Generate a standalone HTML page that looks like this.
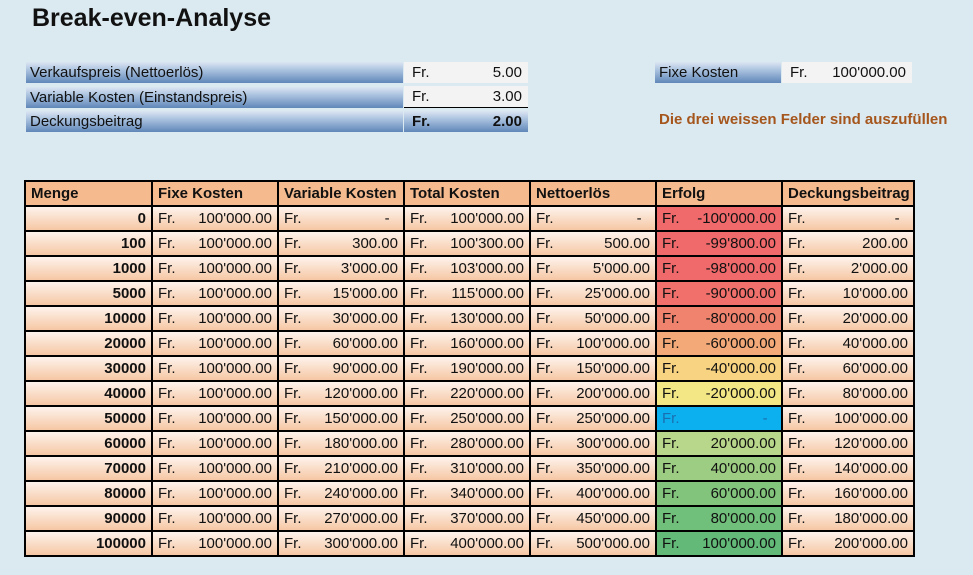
<!DOCTYPE html><html><head><meta charset="utf-8"><style>
body{margin:0;width:973px;height:575px;background:#dbe9f1;font-family:"Liberation Sans",Arial,sans-serif;position:relative;overflow:hidden;color:#111}
.a{position:absolute}
.bar{position:absolute;left:26px;width:377px;height:21px;background:linear-gradient(#dce6f2,#a9c1de 40%,#5f87b8);font-size:15px;line-height:21px;padding-left:4px;box-sizing:border-box}
.val{position:absolute;left:404px;width:124px;height:21px;background:#f3f3f3;font-size:15px;line-height:21px}
.val span{position:absolute;left:8px}.val b,.val i{position:absolute;right:6px;font-style:normal}
table{position:absolute;left:24px;top:180px;width:889px;border-collapse:collapse;table-layout:fixed;font-size:15px}
td{border:2px solid #000;height:23px;padding:0 5px;line-height:21px;background:linear-gradient(#fdf3ec,#f6c7a4);white-space:nowrap;overflow:hidden}
tr.h td{background:#f5bb8f;font-weight:bold}
td.m{text-align:right;font-weight:bold}
td span{float:left}td i{float:right;font-style:normal}
</style></head><body>
<div class="a" style="left:32px;top:4px;font-size:25px;font-weight:bold">Break-even-Analyse</div>
<div class="bar" style="top:62px">Verkaufspreis (Nettoerlös)</div>
<div class="bar" style="top:87px">Variable Kosten (Einstandspreis)</div>
<div class="bar" style="top:111px">Deckungsbeitrag</div>
<div class="val" style="top:62px"><span>Fr.</span><i>5.00</i></div>
<div class="val" style="top:86px;border-bottom:1px solid #000"><span>Fr.</span><i>3.00</i></div>
<div class="val" style="top:111px;background:linear-gradient(#dce6f2,#a9c1de 40%,#5f87b8);font-weight:bold"><span>Fr.</span><b>2.00</b></div>
<div class="bar" style="top:62px;left:655px;width:126px">Fixe Kosten</div>
<div class="val" style="top:62px;left:782px;width:130px"><span>Fr.</span><i>100'000.00</i></div>
<div class="a" style="left:659px;top:111px;font-size:15px;font-weight:bold;color:#a5561c">Die drei weissen Felder sind auszufüllen</div>
<table>
<colgroup><col style="width:127px"><col style="width:126px"><col style="width:126px"><col style="width:126px"><col style="width:126px"><col style="width:126px"><col style="width:132px"></colgroup>
<tr class="h"><td>Menge</td><td>Fixe Kosten</td><td>Variable Kosten</td><td>Total Kosten</td><td>Nettoerlös</td><td>Erfolg</td><td>Deckungsbeitrag</td></tr>
<tr><td class="m">0</td><td><span>Fr.</span><i>100'000.00</i></td><td><span>Fr.</span><i>-&nbsp;&nbsp;</i></td><td><span>Fr.</span><i>100'000.00</i></td><td><span>Fr.</span><i>-&nbsp;&nbsp;</i></td><td style="background:#f0696b"><span>Fr.</span><i>-100'000.00</i></td><td><span>Fr.</span><i>-&nbsp;&nbsp;</i></td></tr>
<tr><td class="m">100</td><td><span>Fr.</span><i>100'000.00</i></td><td><span>Fr.</span><i>300.00</i></td><td><span>Fr.</span><i>100'300.00</i></td><td><span>Fr.</span><i>500.00</i></td><td style="background:#f0696b"><span>Fr.</span><i>-99'800.00</i></td><td><span>Fr.</span><i>200.00</i></td></tr>
<tr><td class="m">1000</td><td><span>Fr.</span><i>100'000.00</i></td><td><span>Fr.</span><i>3'000.00</i></td><td><span>Fr.</span><i>103'000.00</i></td><td><span>Fr.</span><i>5'000.00</i></td><td style="background:#f0696b"><span>Fr.</span><i>-98'000.00</i></td><td><span>Fr.</span><i>2'000.00</i></td></tr>
<tr><td class="m">5000</td><td><span>Fr.</span><i>100'000.00</i></td><td><span>Fr.</span><i>15'000.00</i></td><td><span>Fr.</span><i>115'000.00</i></td><td><span>Fr.</span><i>25'000.00</i></td><td style="background:#f1706c"><span>Fr.</span><i>-90'000.00</i></td><td><span>Fr.</span><i>10'000.00</i></td></tr>
<tr><td class="m">10000</td><td><span>Fr.</span><i>100'000.00</i></td><td><span>Fr.</span><i>30'000.00</i></td><td><span>Fr.</span><i>130'000.00</i></td><td><span>Fr.</span><i>50'000.00</i></td><td style="background:#f0836e"><span>Fr.</span><i>-80'000.00</i></td><td><span>Fr.</span><i>20'000.00</i></td></tr>
<tr><td class="m">20000</td><td><span>Fr.</span><i>100'000.00</i></td><td><span>Fr.</span><i>60'000.00</i></td><td><span>Fr.</span><i>160'000.00</i></td><td><span>Fr.</span><i>100'000.00</i></td><td style="background:#f4aa78"><span>Fr.</span><i>-60'000.00</i></td><td><span>Fr.</span><i>40'000.00</i></td></tr>
<tr><td class="m">30000</td><td><span>Fr.</span><i>100'000.00</i></td><td><span>Fr.</span><i>90'000.00</i></td><td><span>Fr.</span><i>190'000.00</i></td><td><span>Fr.</span><i>150'000.00</i></td><td style="background:#f8d381"><span>Fr.</span><i>-40'000.00</i></td><td><span>Fr.</span><i>60'000.00</i></td></tr>
<tr><td class="m">40000</td><td><span>Fr.</span><i>100'000.00</i></td><td><span>Fr.</span><i>120'000.00</i></td><td><span>Fr.</span><i>220'000.00</i></td><td><span>Fr.</span><i>200'000.00</i></td><td style="background:#f3e685"><span>Fr.</span><i>-20'000.00</i></td><td><span>Fr.</span><i>80'000.00</i></td></tr>
<tr><td class="m">50000</td><td><span>Fr.</span><i>100'000.00</i></td><td><span>Fr.</span><i>150'000.00</i></td><td><span>Fr.</span><i>250'000.00</i></td><td><span>Fr.</span><i>250'000.00</i></td><td style="background:#0db0ee;color:#1a6fb0"><span>Fr.</span><i>-&nbsp;&nbsp;</i></td><td><span>Fr.</span><i>100'000.00</i></td></tr>
<tr><td class="m">60000</td><td><span>Fr.</span><i>100'000.00</i></td><td><span>Fr.</span><i>180'000.00</i></td><td><span>Fr.</span><i>280'000.00</i></td><td><span>Fr.</span><i>300'000.00</i></td><td style="background:#b9d78a"><span>Fr.</span><i>20'000.00</i></td><td><span>Fr.</span><i>120'000.00</i></td></tr>
<tr><td class="m">70000</td><td><span>Fr.</span><i>100'000.00</i></td><td><span>Fr.</span><i>210'000.00</i></td><td><span>Fr.</span><i>310'000.00</i></td><td><span>Fr.</span><i>350'000.00</i></td><td style="background:#9ccd82"><span>Fr.</span><i>40'000.00</i></td><td><span>Fr.</span><i>140'000.00</i></td></tr>
<tr><td class="m">80000</td><td><span>Fr.</span><i>100'000.00</i></td><td><span>Fr.</span><i>240'000.00</i></td><td><span>Fr.</span><i>340'000.00</i></td><td><span>Fr.</span><i>400'000.00</i></td><td style="background:#83c47d"><span>Fr.</span><i>60'000.00</i></td><td><span>Fr.</span><i>160'000.00</i></td></tr>
<tr><td class="m">90000</td><td><span>Fr.</span><i>100'000.00</i></td><td><span>Fr.</span><i>270'000.00</i></td><td><span>Fr.</span><i>370'000.00</i></td><td><span>Fr.</span><i>450'000.00</i></td><td style="background:#70bf7a"><span>Fr.</span><i>80'000.00</i></td><td><span>Fr.</span><i>180'000.00</i></td></tr>
<tr><td class="m">100000</td><td><span>Fr.</span><i>100'000.00</i></td><td><span>Fr.</span><i>300'000.00</i></td><td><span>Fr.</span><i>400'000.00</i></td><td><span>Fr.</span><i>500'000.00</i></td><td style="background:#62b978"><span>Fr.</span><i>100'000.00</i></td><td><span>Fr.</span><i>200'000.00</i></td></tr>
</table>
</body></html>
